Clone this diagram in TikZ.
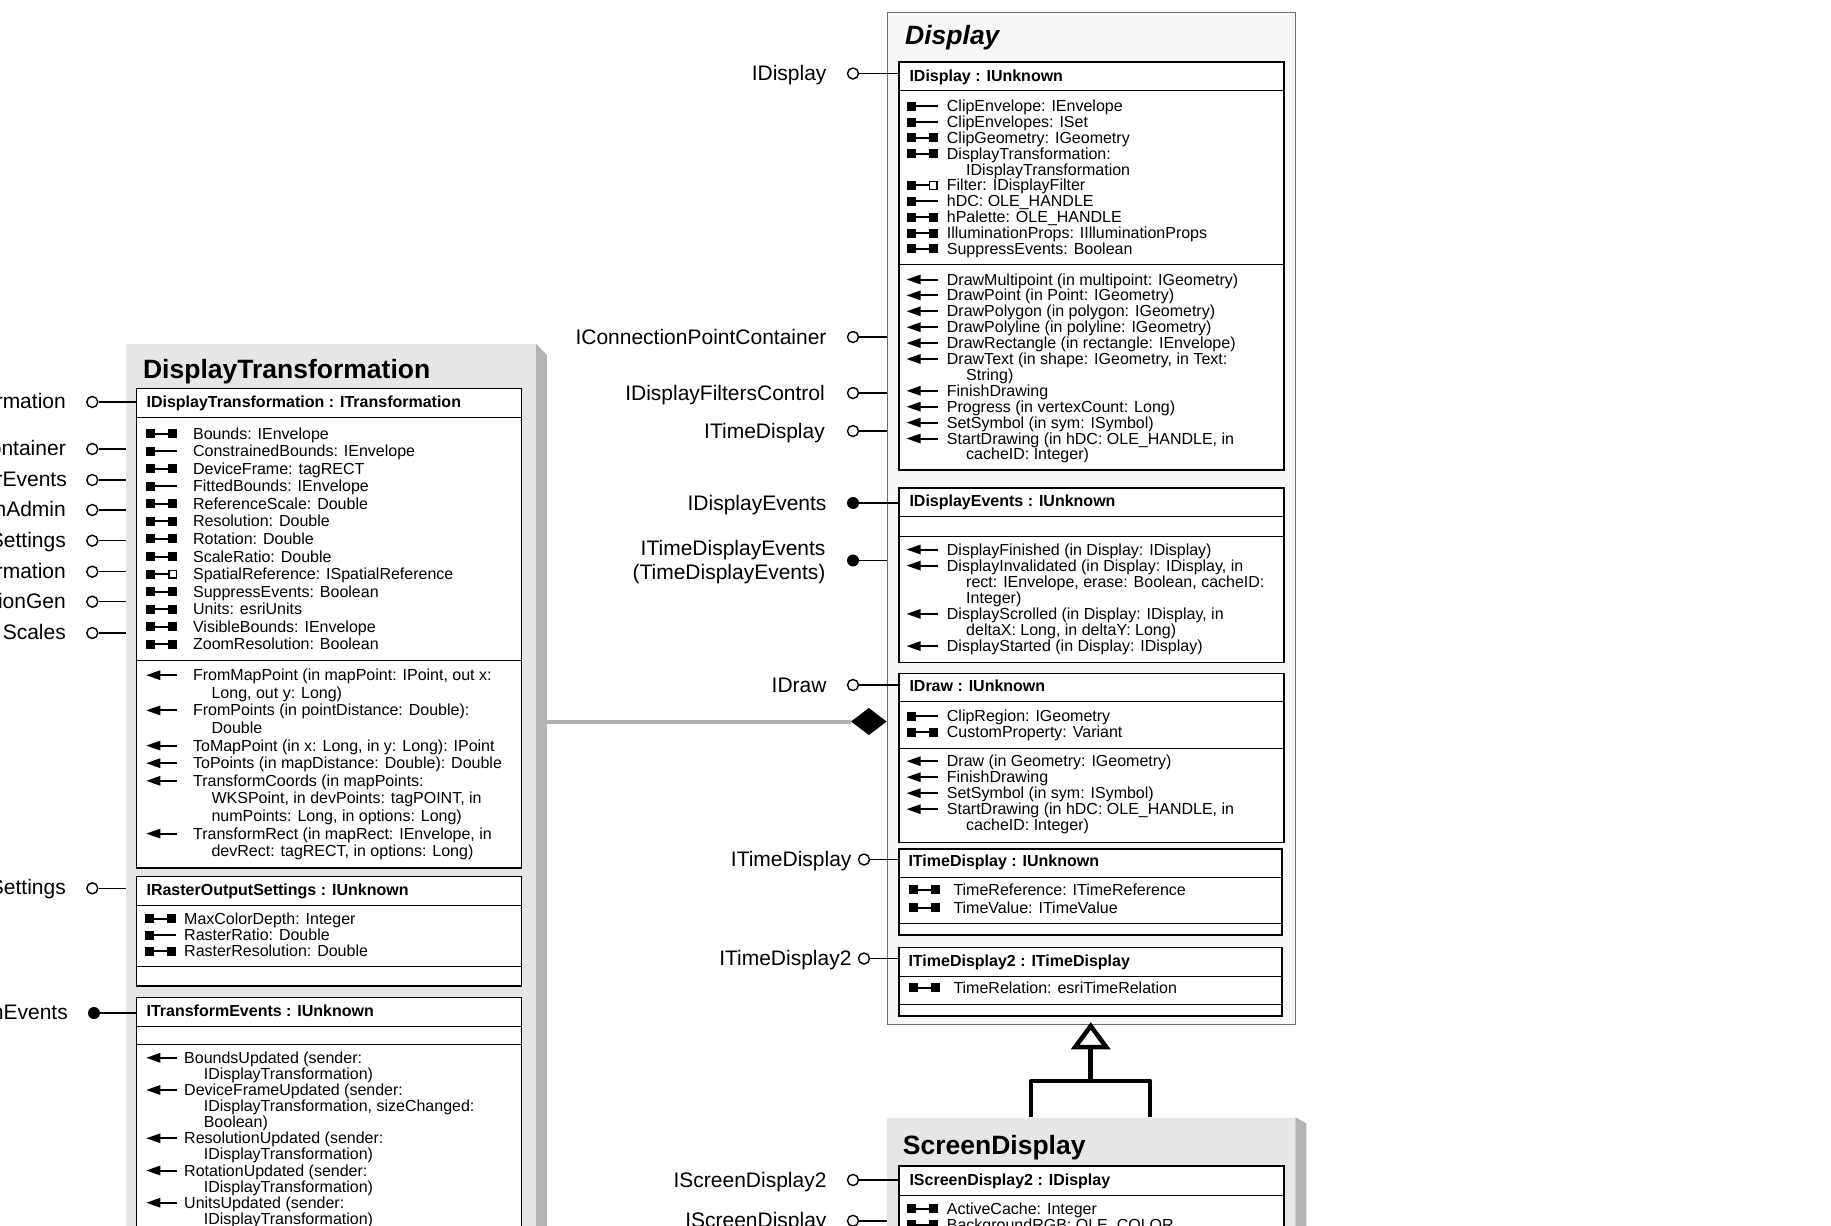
\documentclass[tikz,border=0pt]{standalone}
\usepackage{fontspec}
\setmainfont{Liberation Sans}
\usetikzlibrary{calc}
\definecolor{clsfill}{HTML}{E6E6E6}
\definecolor{clsshadow}{HTML}{B3B3B3}
\definecolor{absfill}{HTML}{F7F7F7}
\definecolor{absedge}{HTML}{6E6E6E}
\definecolor{complink}{HTML}{B0B0B0}
\newcounter{rc}
\newcommand\icn[2]{}
\newcommand\icrw[2]{\fill (#1,#2-10) rectangle (#1+9,#2-1);
  \draw[line width=2pt] (#1+9,#2-5.5) -- (#1+22,#2-5.5);
  \fill (#1+22,#2-10) rectangle (#1+31,#2-1);}
\newcommand\icro[2]{\fill (#1,#2-10) rectangle (#1+9,#2-1);
  \draw[line width=2pt] (#1+9,#2-5.5) -- (#1+31,#2-5.5);}
\newcommand\icrwr[2]{\fill (#1,#2-10) rectangle (#1+9,#2-1);
  \draw[line width=2pt] (#1+9,#2-5.5) -- (#1+22,#2-5.5);
  \draw[line width=1.3pt,fill=white] (#1+22.6,#2-9.4) rectangle (#1+30.4,#2-1.6);}
\newcommand\icm[2]{\fill (#1,#2-5.5) -- (#1+14,#2-10.5) -- (#1+14,#2-0.5) -- cycle;
  \draw[line width=2pt] (#1+12,#2-5.5) -- (#1+31,#2-5.5);}
\newcommand\mrow[5]{\stepcounter{rc}\csname ic#1\endcsname{#2}{#4}%
  \node[body] (t\arabic{rc}) at (#3,#4) {#5};}
\begin{document}
\begin{tikzpicture}[x=1pt,y=-1pt,
  body/.style={font=\fontsize{16}{16}\selectfont, anchor=base west, inner sep=0pt},
  hdr/.style={font=\bfseries\fontsize{16}{16}\selectfont, anchor=base west, inner sep=0pt},
  ttl/.style={font=\bfseries\fontsize{26.5}{27}\selectfont, anchor=base west, inner sep=0pt},
  lbl/.style={font=\fontsize{21}{22}\selectfont, anchor=base east, inner sep=0pt},
  ibox/.style={draw=black, fill=white, line width=1.5pt, anchor=north west, inner sep=0pt},
  clsbox/.style={fill=clsfill, anchor=north west, inner sep=0pt},
  sepl/.style={line width=0.9pt},
  lol/.style={circle, draw=black, fill=white, line width=1.4pt, minimum size=11pt, inner sep=0pt},
  lolf/.style={circle, fill=black, minimum size=12pt, inner sep=0pt},
  conn/.style={line width=1.4pt},
  gen/.style={line width=4.5pt},
  comp/.style={draw=complink, line width=4pt}]
\useasboundingbox (0,0) rectangle (1831,1226);
\clip (0,0) rectangle (1831,1226);
\fill[white] (0,0) rectangle (1831,1226);

% ===== DisplayTransformation =====
\node[clsbox, minimum width=409.7, minimum height=900] (dt) at (126,344) {};
\fill[clsshadow] (dt.north east) -- ++(10.7,11) -- ++(0,900) -- (dt.south east) -- cycle;
\node[ttl] (dttitle) at (142.9,378.3) {DisplayTransformation};

\node[ibox, minimum width=385, minimum height=479.6] (tb1) at (135.7,387.7) {};
\draw[sepl] (135.7,417.7) -- (520.7,417.7);
\draw[sepl] (135.7,660) -- (520.7,660);
\node[hdr] (tb1h) at (146.4,407.3) {IDisplayTransformation : ITransformation};
\mrow{rw}{146.4}{192.9}{439}{Bounds: IEnvelope}
\mrow{ro}{146.4}{192.9}{456.58}{ConstrainedBounds: IEnvelope}
\mrow{rw}{146.4}{192.9}{474.16}{DeviceFrame: tagRECT}
\mrow{ro}{146.4}{192.9}{491.74}{FittedBounds: IEnvelope}
\mrow{rw}{146.4}{192.9}{509.32}{ReferenceScale: Double}
\mrow{rw}{146.4}{192.9}{526.9}{Resolution: Double}
\mrow{rw}{146.4}{192.9}{544.48}{Rotation: Double}
\mrow{rw}{146.4}{192.9}{562.06}{ScaleRatio: Double}
\mrow{rwr}{146.4}{192.9}{579.64}{SpatialReference: ISpatialReference}
\mrow{rw}{146.4}{192.9}{597.22}{SuppressEvents: Boolean}
\mrow{rw}{146.4}{192.9}{614.8}{Units: esriUnits}
\mrow{rw}{146.4}{192.9}{632.38}{VisibleBounds: IEnvelope}
\mrow{rw}{146.4}{192.9}{649.96}{ZoomResolution: Boolean}
\mrow{m}{146.4}{192.9}{680.7}{FromMapPoint (in mapPoint: IPoint, out x:}
\mrow{n}{146.4}{211.4}{698.3}{Long, out y: Long)}
\mrow{m}{146.4}{192.9}{715.9}{FromPoints (in pointDistance: Double):}
\mrow{n}{146.4}{211.4}{733.5}{Double}
\mrow{m}{146.4}{192.9}{751.1}{ToMapPoint (in x: Long, in y: Long): IPoint}
\mrow{m}{146.4}{192.9}{768.7}{ToPoints (in mapDistance: Double): Double}
\mrow{m}{146.4}{192.9}{786.3}{TransformCoords (in mapPoints:}
\mrow{n}{146.4}{211.4}{803.9}{WKSPoint, in devPoints: tagPOINT, in}
\mrow{n}{146.4}{211.4}{821.5}{numPoints: Long, in options: Long)}
\mrow{m}{146.4}{192.9}{839.1}{TransformRect (in mapRect: IEnvelope, in}
\mrow{n}{146.4}{211.4}{856.7}{devRect: tagRECT, in options: Long)}

\node[ibox, minimum width=385, minimum height=109.3] (tb2) at (135.7,875.7) {};
\draw[sepl] (135.7,905.7) -- (520.7,905.7);
\draw[sepl] (135.7,966) -- (520.7,966);
\node[hdr] (tb2h) at (146.4,895) {IRasterOutputSettings : IUnknown};
\mrow{rw}{144.6}{184}{924.3}{MaxColorDepth: Integer}
\mrow{ro}{144.6}{184}{940.5}{RasterRatio: Double}
\mrow{rw}{144.6}{184}{956.7}{RasterResolution: Double}

\node[ibox, minimum width=385, minimum height=260] (tb3) at (135.7,996.7) {};
\draw[sepl] (135.7,1026) -- (520.7,1026);
\draw[sepl] (135.7,1044.3) -- (520.7,1044.3);
\node[hdr] (tb3h) at (146.4,1016) {ITransformEvents : IUnknown};
\mrow{m}{146.4}{184}{1063.3}{BoundsUpdated (sender:}
\mrow{n}{146.4}{203.6}{1079.4}{IDisplayTransformation)}
\mrow{m}{146.4}{184}{1095.5}{DeviceFrameUpdated (sender:}
\mrow{n}{146.4}{203.6}{1111.6}{IDisplayTransformation, sizeChanged:}
\mrow{n}{146.4}{203.6}{1127.7}{Boolean)}
\mrow{m}{146.4}{184}{1143.8}{ResolutionUpdated (sender:}
\mrow{n}{146.4}{203.6}{1159.9}{IDisplayTransformation)}
\mrow{m}{146.4}{184}{1176}{RotationUpdated (sender:}
\mrow{n}{146.4}{203.6}{1192.1}{IDisplayTransformation)}
\mrow{m}{146.4}{184}{1208.2}{UnitsUpdated (sender:}
\mrow{n}{146.4}{203.6}{1224.3}{IDisplayTransformation)}

% ===== Display =====
\node[fill=absfill, draw=absedge, line width=1.2pt, anchor=north west, inner sep=0pt,
      minimum width=408.3, minimum height=1012] (display) at (886.7,12) {};
\node[ttl, font=\bfseries\itshape\fontsize{26.5}{27}\selectfont] (disptitle) at (905,44) {Display};

\node[ibox, minimum width=385, minimum height=408.3] (db1) at (898.3,61) {};
\draw[sepl] (898.3,90) -- (1283.3,90);
\draw[sepl] (898.3,264.3) -- (1283.3,264.3);
\node[hdr] (db1h) at (909.3,81) {IDisplay : IUnknown};
\mrow{ro}{906.7}{946.7}{111.7}{ClipEnvelope: IEnvelope}
\mrow{ro}{906.7}{946.7}{127.55}{ClipEnvelopes: ISet}
\mrow{rw}{906.7}{946.7}{143.4}{ClipGeometry: IGeometry}
\mrow{rw}{906.7}{946.7}{159.25}{DisplayTransformation:}
\mrow{n}{906.7}{966}{175.1}{IDisplayTransformation}
\mrow{rwr}{906.7}{946.7}{190.95}{Filter: IDisplayFilter}
\mrow{ro}{906.7}{946.7}{206.8}{hDC: OLE\_HANDLE}
\mrow{rw}{906.7}{946.7}{222.65}{hPalette: OLE\_HANDLE}
\mrow{rw}{906.7}{946.7}{238.5}{IlluminationProps: IIlluminationProps}
\mrow{rw}{906.7}{946.7}{254.35}{SuppressEvents: Boolean}
\mrow{m}{906.7}{946.7}{285}{DrawMultipoint (in multipoint: IGeometry)}
\mrow{m}{906.7}{946.7}{300.9}{DrawPoint (in Point: IGeometry)}
\mrow{m}{906.7}{946.7}{316.8}{DrawPolygon (in polygon: IGeometry)}
\mrow{m}{906.7}{946.7}{332.7}{DrawPolyline (in polyline: IGeometry)}
\mrow{m}{906.7}{946.7}{348.6}{DrawRectangle (in rectangle: IEnvelope)}
\mrow{m}{906.7}{946.7}{364.5}{DrawText (in shape: IGeometry, in Text:}
\mrow{n}{906.7}{966}{380.4}{String)}
\mrow{m}{906.7}{946.7}{396.3}{FinishDrawing}
\mrow{m}{906.7}{946.7}{412.2}{Progress (in vertexCount: Long)}
\mrow{m}{906.7}{946.7}{428.1}{SetSymbol (in sym: ISymbol)}
\mrow{m}{906.7}{946.7}{444}{StartDrawing (in hDC: OLE\_HANDLE, in}
\mrow{n}{906.7}{966}{459.9}{cacheID: Integer)}

\node[ibox, minimum width=385, minimum height=174.4] (db2) at (898.3,487.3) {};
\draw[sepl] (898.3,516.7) -- (1283.3,516.7);
\draw[sepl] (898.3,536) -- (1283.3,536);
\node[hdr] (db2h) at (909.3,506.7) {IDisplayEvents : IUnknown};
\mrow{m}{906.7}{946.7}{555}{DisplayFinished (in Display: IDisplay)}
\mrow{m}{906.7}{946.7}{571.1}{DisplayInvalidated (in Display: IDisplay, in}
\mrow{n}{906.7}{966}{587.2}{rect: IEnvelope, erase: Boolean, cacheID:}
\mrow{n}{906.7}{966}{603.3}{Integer)}
\mrow{m}{906.7}{946.7}{619.4}{DisplayScrolled (in Display: IDisplay, in}
\mrow{n}{906.7}{966}{635.5}{deltaX: Long, in deltaY: Long)}
\mrow{m}{906.7}{946.7}{651.6}{DisplayStarted (in Display: IDisplay)}

\node[ibox, minimum width=385, minimum height=169] (db3) at (898.3,672.7) {};
\draw[sepl] (898.3,701.7) -- (1283.3,701.7);
\draw[sepl] (898.3,748.3) -- (1283.3,748.3);
\node[hdr] (db3h) at (909.3,691.7) {IDraw : IUnknown};
\mrow{ro}{906.7}{946.7}{721.7}{ClipRegion: IGeometry}
\mrow{rw}{906.7}{946.7}{737.6}{CustomProperty: Variant}
\mrow{m}{906.7}{946.7}{766.7}{Draw (in Geometry: IGeometry)}
\mrow{m}{906.7}{946.7}{782.7}{FinishDrawing}
\mrow{m}{906.7}{946.7}{798.7}{SetSymbol (in sym: ISymbol)}
\mrow{m}{906.7}{946.7}{814.7}{StartDrawing (in hDC: OLE\_HANDLE, in}
\mrow{n}{906.7}{966}{830.7}{cacheID: Integer)}

\node[ibox, minimum width=382.7, minimum height=86] (db4) at (898.3,848.3) {};
\draw[sepl] (898.3,877.7) -- (1281,877.7);
\draw[sepl] (898.3,923.3) -- (1281,923.3);
\node[hdr] (db4h) at (908.3,866.7) {ITimeDisplay : IUnknown};
\mrow{rw}{908.6}{953.3}{895}{TimeReference: ITimeReference}
\mrow{rw}{908.6}{953.3}{913.3}{TimeValue: ITimeValue}

\node[ibox, minimum width=382.7, minimum height=68.3] (db5) at (898.3,946.7) {};
\draw[sepl] (898.3,976) -- (1281,976);
\draw[sepl] (898.3,1004.3) -- (1281,1004.3);
\node[hdr] (db5h) at (908.3,966.7) {ITimeDisplay2 : ITimeDisplay};
\mrow{rw}{908.6}{953.3}{993.3}{TimeRelation: esriTimeRelation}

% ===== ScreenDisplay =====
\node[clsbox, minimum width=408, minimum height=150] (sd) at (887,1117.3) {};
\fill[clsshadow] (sd.north east) -- ++(11,6) -- ++(0,150) -- (sd.south east) -- cycle;
\node[ttl] (sdtitle) at (902.7,1154.3) {ScreenDisplay};
\node[ibox, minimum width=385, minimum height=100] (sb1) at (898.3,1165) {};
\draw[sepl] (898.3,1195) -- (1283.3,1195);
\node[hdr] (sb1h) at (909.3,1185.7) {IScreenDisplay2 : IDisplay};
\mrow{rw}{906.7}{946.7}{1214.3}{ActiveCache: Integer}
\mrow{rw}{906.7}{946.7}{1230.2}{BackgroundRGB: OLE\_COLOR}

% ===== Generalization ScreenDisplay -> Display =====
\coordinate (gtip) at (1090.7,1026);
\coordinate (gbase) at (1090.7,1047);
\coordinate (gbar) at (1090.7,1081);
\draw[gen, fill=white, line join=miter] (gtip) -- (1106.2,1047) -- (1075.2,1047) -- cycle;
\draw[gen] (gbase) -- (gbar);
\draw[gen, line join=round] (1031,1117.3) -- (1031,1081) -- (1150,1081) -- (1150,1117.3);

% ===== Composition DisplayTransformation -> Display =====
\coordinate (dtedge) at (546.4,721.5);
\coordinate (dial) at (851,721.5);
\draw[comp] (dtedge) -- (dial);
\fill (dial) -- (868.8,708) -- (886.7,721.5) -- (868.8,735) -- cycle;

% ===== Lollipops for Display =====
\node[lol] (p1) at (853,73.5) {};
\draw[conn] (p1) -- (p1 -| db1.west);
\node[lbl] (l1) at (826.7,80) {IDisplay};
\node[lol] (p2) at (853,337) {};
\draw[conn] (p2) -- (p2 -| display.west);
\node[lbl] (l2) at (826.7,344) {IConnectionPointContainer};
\node[lol] (p3) at (853,393) {};
\draw[conn] (p3) -- (p3 -| display.west);
\node[lbl] (l3) at (825,400) {IDisplayFiltersControl};
\node[lol] (p4) at (853,431) {};
\draw[conn] (p4) -- (p4 -| display.west);
\node[lbl] (l4) at (825,438) {ITimeDisplay};
\node[lolf] (p5) at (853,503) {};
\draw[conn] (p5) -- (p5 -| db2.west);
\node[lbl] (l5) at (826.7,510) {IDisplayEvents};
\node[lolf] (p6) at (853,560.5) {};
\draw[conn] (p6) -- (p6 -| display.west);
\node[lbl] (l6a) at (825.7,555.5) {ITimeDisplayEvents};
\node[lbl] (l6b) at (825.7,579) {(TimeDisplayEvents)};
\node[lol] (p7) at (853,685) {};
\draw[conn] (p7) -- (p7 -| db3.west);
\node[lbl] (l7) at (826.7,692) {IDraw};
\node[lol] (p8) at (864,859.5) {};
\draw[conn] (p8) -- (p8 -| db4.west);
\node[lbl] (l8) at (851.7,866.5) {ITimeDisplay};
\node[lol] (p9) at (864,958.5) {};
\draw[conn] (p9) -- (p9 -| db5.west);
\node[lbl] (l9) at (851.7,965.5) {ITimeDisplay2};
\node[lol] (p10) at (853,1180) {};
\draw[conn] (p10) -- (p10 -| sb1.west);
\node[lbl] (l10) at (826.7,1187) {IScreenDisplay2};
\node[lol] (p11) at (853,1220.8) {};
\draw[conn] (p11) -- (p11 -| sd.west);
\node[lbl] (l11) at (826.7,1227.8) {IScreenDisplay};

% ===== Lollipops for DisplayTransformation (cut at left edge) =====
\node[lol] (q1) at (92.3,402) {};
\draw[conn] (q1) -- (q1 -| tb1.west);
\node[lbl] (m1) at (66,408.5) {IDisplayTransformation};
\node[lol] (q2) at (92.3,449) {};
\draw[conn] (q2) -- (q2 -| dt.west);
\node[lbl] (m2) at (66,455.5) {IConnectionPointContainer};
\node[lol] (q3) at (92.3,480) {};
\draw[conn] (q3) -- (q3 -| dt.west);
\node[lbl] (m3) at (67,486.5) {rEvents};
\node[lol] (q4) at (92.3,510) {};
\draw[conn] (q4) -- (q4 -| dt.west);
\node[lbl] (m4) at (66,516.5) {nAdmin};
\node[lol] (q5) at (92.3,540.7) {};
\draw[conn] (q5) -- (q5 -| dt.west);
\node[lbl] (m5) at (66,547.2) {IOutputRasterSettings};
\node[lol] (q6) at (92.3,571.7) {};
\draw[conn] (q6) -- (q6 -| dt.west);
\node[lbl] (m6) at (66,578.2) {ITransformation};
\node[lol] (q7) at (92.3,601.7) {};
\draw[conn] (q7) -- (q7 -| dt.west);
\node[lbl] (m7) at (66,608.2) {ionGen};
\node[lol] (q8) at (92.3,633) {};
\draw[conn] (q8) -- (q8 -| dt.west);
\node[lbl] (m8) at (66,639.5) {Scales};
\node[lol] (q9) at (92.3,888.3) {};
\draw[conn] (q9) -- (q9 -| dt.west);
\node[lbl] (m9) at (66,894.8) {IRasterOutputSettings};
\node[lolf] (q10) at (94,1013) {};
\draw[conn] (q10) -- (q10 -| tb3.west);
\node[lbl] (m10) at (68,1019.5) {ITransformEvents};
\end{tikzpicture}
\end{document}
